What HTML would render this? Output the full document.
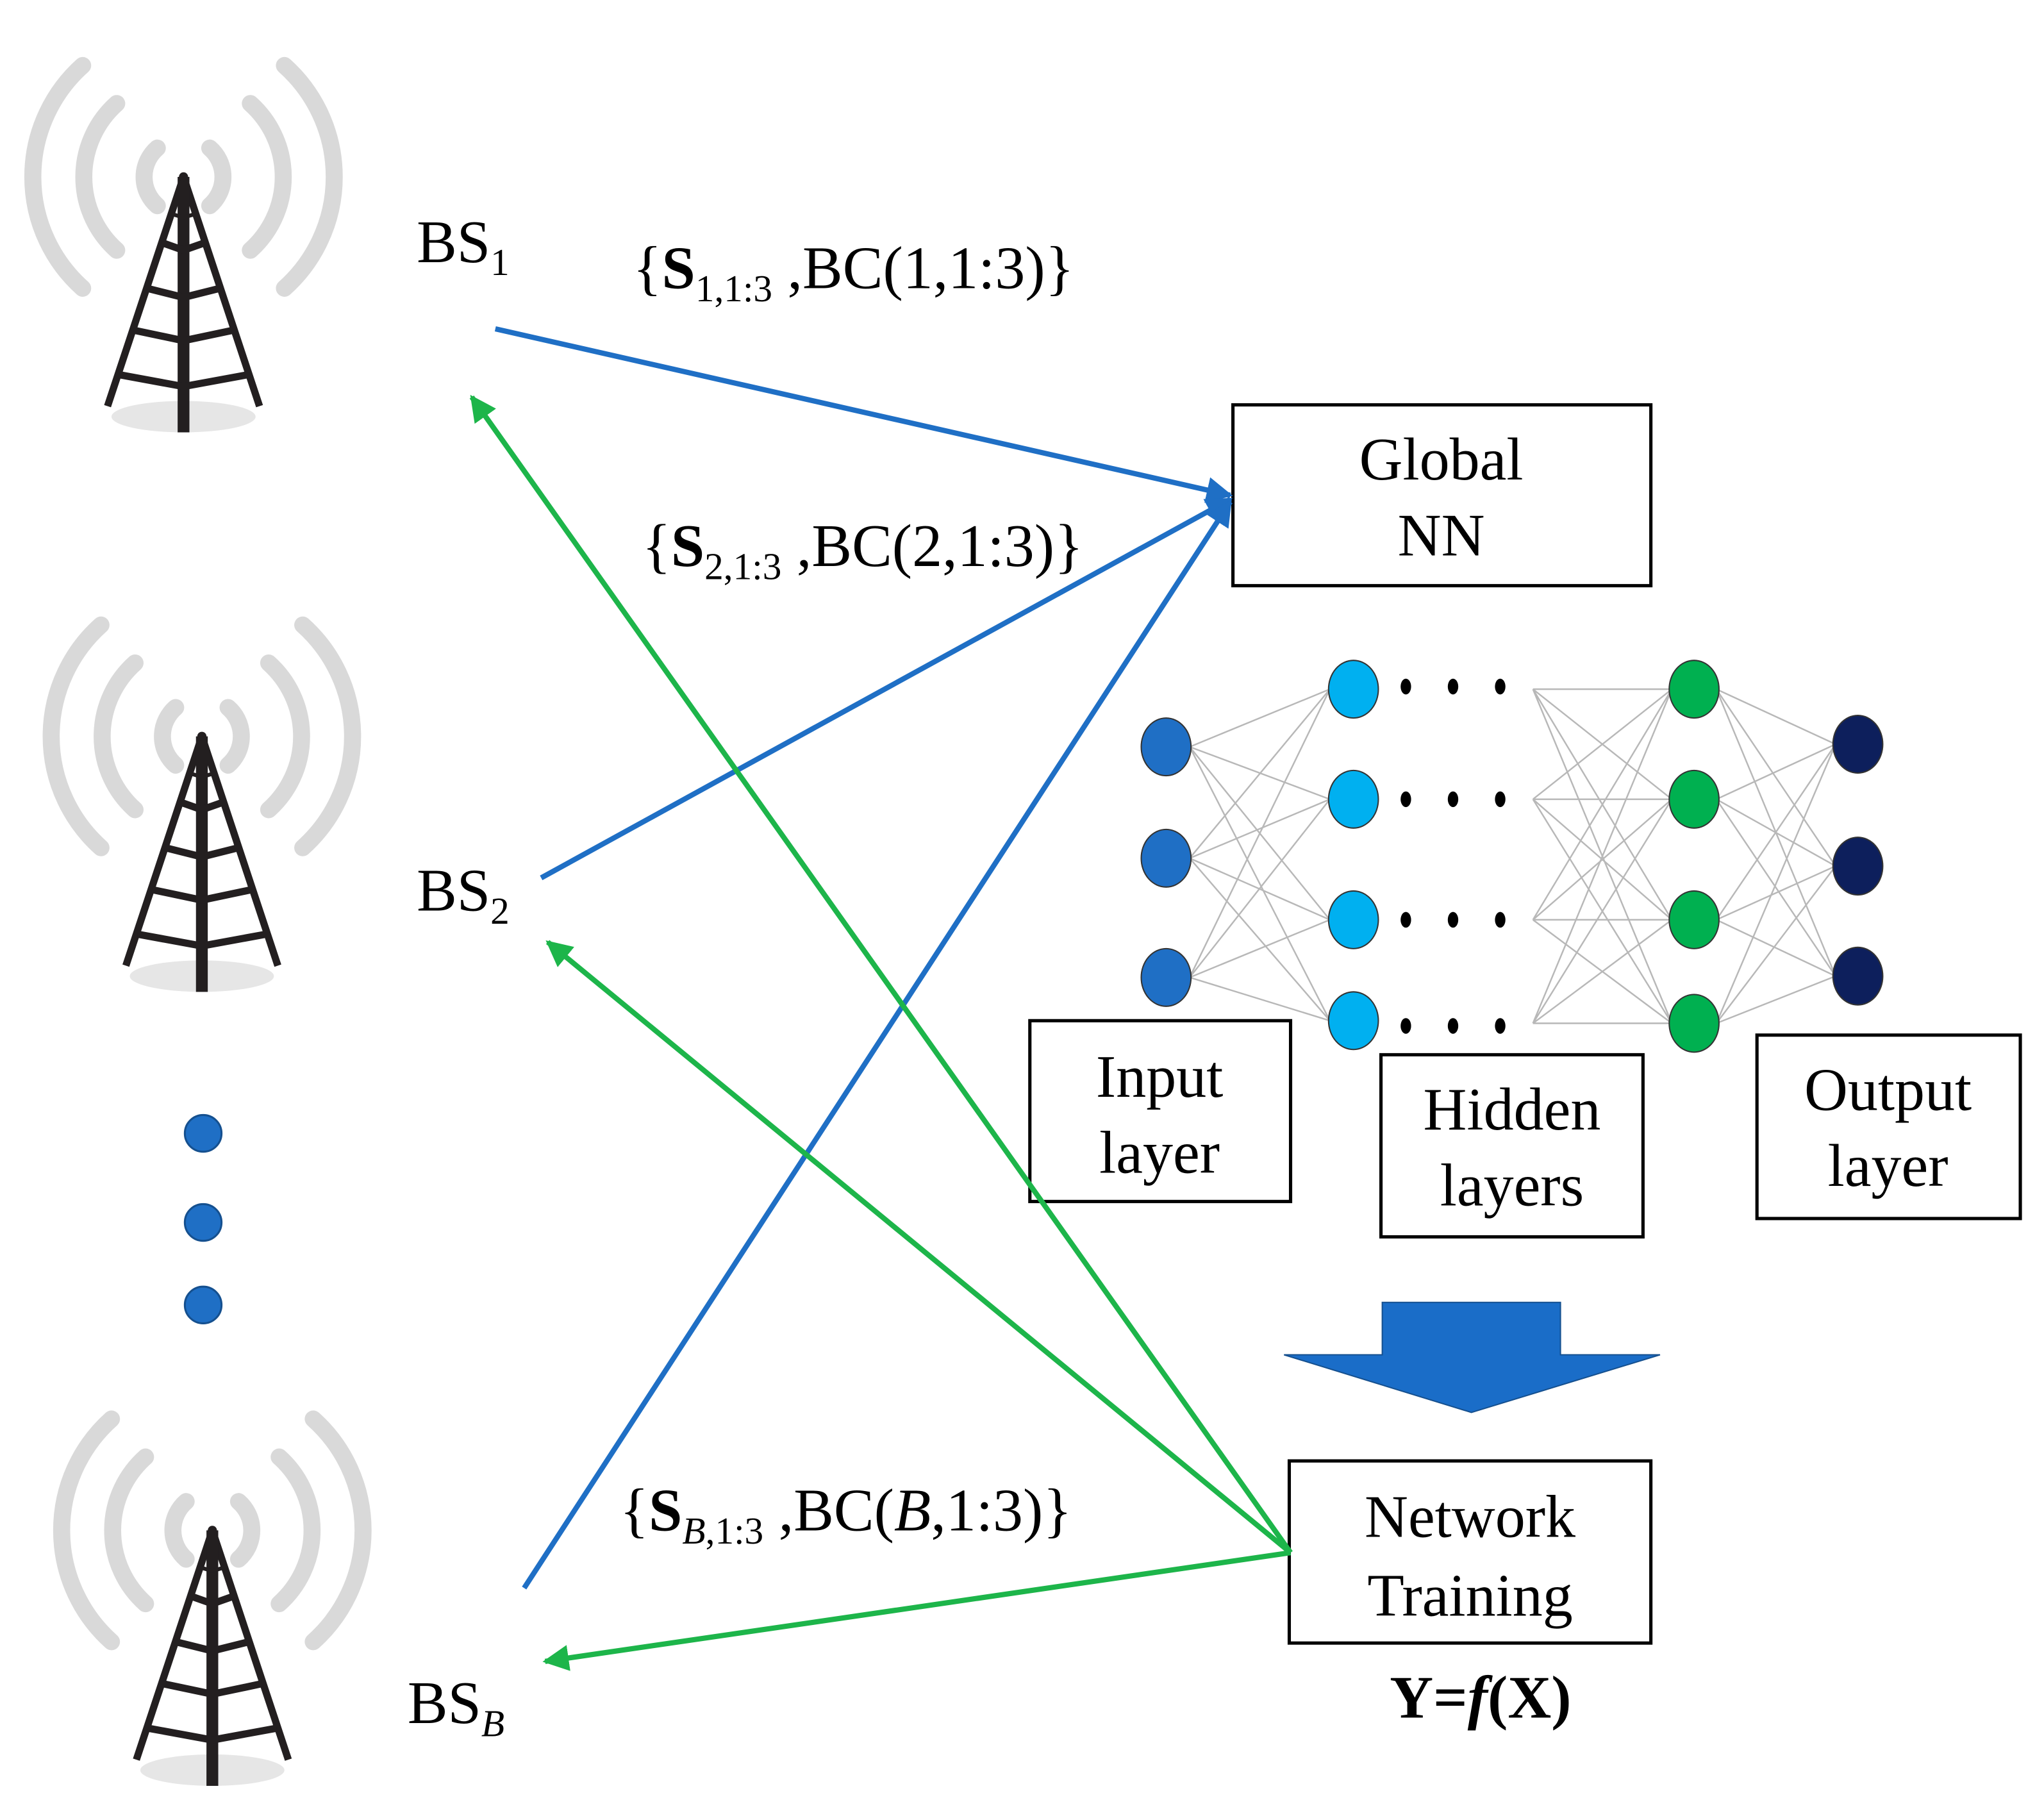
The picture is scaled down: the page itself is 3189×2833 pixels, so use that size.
<!DOCTYPE html>
<html><head><meta charset="utf-8"><style>html,body{margin:0;padding:0;background:#fff}svg{display:block}</style></head>
<body>
<svg xmlns="http://www.w3.org/2000/svg" width="3189" height="2833" viewBox="0 0 1560 1386">
<defs>
<g id="tower">
  <g fill="none" stroke="#d9d9d9" stroke-width="13" stroke-linecap="round">
    <path d="M-20,-22 A29,29 0 0 0 -20,22"/>
    <path d="M20,-22 A29,29 0 0 1 20,22"/>
    <path d="M-51,-56 A75,75 0 0 0 -51,56"/>
    <path d="M51,-56 A75,75 0 0 1 51,56"/>
    <path d="M-77,-85 A114,114 0 0 0 -77,85"/>
    <path d="M77,-85 A114,114 0 0 1 77,85"/>
  </g>
  <ellipse cx="0" cy="183" rx="55" ry="12" fill="#e6e6e6"/>
  <g stroke="#231f20" fill="none" stroke-linejoin="round">
    <path d="M-58,175 L0,0 L58,175" stroke-width="5.5"/>
    <path d="M0,0 V195" stroke-width="9"/>
    <path d="M-10,28 L0,31 L10,28" stroke-width="3"/>
    <path d="M-17,50 L0,56 L17,50 M-28,85 L0,92 L28,85 M-38,117 L0,125 L38,117 M-49,151 L0,160 L49,151" stroke-width="5.5"/>
  </g>
  <circle cx="0" cy="0" r="3.5" fill="#231f20"/>
</g>
<marker id="ab" viewBox="0 0 10 10" refX="9" refY="5" markerWidth="5" markerHeight="5" orient="auto"><path d="M0,0 L10,5 L0,10 z" fill="#1f6fc5"/></marker>
<marker id="ag" viewBox="0 0 10 10" refX="9" refY="5" markerWidth="5" markerHeight="5" orient="auto"><path d="M0,0 L10,5 L0,10 z" fill="#1db54a"/></marker>
</defs>

<use href="#tower" x="140" y="135"/>
<use href="#tower" x="154" y="562"/>
<use href="#tower" x="162" y="1168"/>

<g fill="#1f6fc5" stroke="#15508f" stroke-width="1.5">
<circle cx="155" cy="865" r="14"/><circle cx="155" cy="933" r="14"/><circle cx="155" cy="996" r="14"/>
</g>

<g font-family="Liberation Serif, serif" font-size="46" fill="#000">
<text x="318" y="200">BS<tspan font-size="29" dy="10">1</tspan></text>
<text x="318" y="695">BS<tspan font-size="29" dy="10">2</tspan></text>
<text x="311" y="1315">BS<tspan font-size="29" dy="10" font-style="italic">B</tspan></text>
<text x="483" y="220">{<tspan font-weight="bold">S</tspan><tspan font-size="29" dy="10">1,1:3</tspan><tspan dy="-10"> ,BC(1,1:3)}</tspan></text>
<text x="490" y="432">{<tspan font-weight="bold">S</tspan><tspan font-size="29" dy="10">2,1:3</tspan><tspan dy="-10"> ,BC(2,1:3)}</tspan></text>
<text x="473" y="1168">{<tspan font-weight="bold">S</tspan><tspan font-size="29" dy="10"><tspan font-style="italic">B</tspan>,1:3</tspan><tspan dy="-10"> ,BC(<tspan font-style="italic">B</tspan>,1:3)}</tspan></text>
</g>

<g transform="translate(-5,-2)">
<g stroke="#b8b8b8" stroke-width="1.2">
<path d="M913,572 L1020,528 M913,572 L1020,612 M913,572 L1020,704 M913,572 L1020,781
M913,657 L1020,528 M913,657 L1020,612 M913,657 L1020,704 M913,657 L1020,781
M913,748 L1020,528 M913,748 L1020,612 M913,748 L1020,704 M913,748 L1020,781"/>
<path d="M1175,528 L1281,528 M1175,528 L1281,612 M1175,528 L1281,704 M1175,528 L1281,783
M1175,612 L1281,528 M1175,612 L1281,612 M1175,612 L1281,704 M1175,612 L1281,783
M1175,704 L1281,528 M1175,704 L1281,612 M1175,704 L1281,704 M1175,704 L1281,783
M1175,783 L1281,528 M1175,783 L1281,612 M1175,783 L1281,704 M1175,783 L1281,783"/>
<path d="M1315,528 L1406,570 M1315,528 L1406,663 M1315,528 L1406,747
M1315,612 L1406,570 M1315,612 L1406,663 M1315,612 L1406,747
M1315,704 L1406,570 M1315,704 L1406,663 M1315,704 L1406,747
M1315,783 L1406,570 M1315,783 L1406,663 M1315,783 L1406,747"/>
</g>
<g stroke="#333" stroke-width="1">
<g fill="#1f6fc5"><ellipse cx="895" cy="572" rx="19" ry="22"/><ellipse cx="895" cy="657" rx="19" ry="22"/><ellipse cx="895" cy="748" rx="19" ry="22"/></g>
<g fill="#00b0f0"><ellipse cx="1038" cy="528" rx="19" ry="22"/><ellipse cx="1038" cy="612" rx="19" ry="22"/><ellipse cx="1038" cy="704" rx="19" ry="22"/><ellipse cx="1038" cy="781" rx="19" ry="22"/></g>
<g fill="#00b050"><ellipse cx="1298" cy="528" rx="19" ry="22"/><ellipse cx="1298" cy="612" rx="19" ry="22"/><ellipse cx="1298" cy="704" rx="19" ry="22"/><ellipse cx="1298" cy="783" rx="19" ry="22"/></g>
<g fill="#0d1f5c"><ellipse cx="1423" cy="570" rx="19" ry="22"/><ellipse cx="1423" cy="663" rx="19" ry="22"/><ellipse cx="1423" cy="747" rx="19" ry="22"/></g>
</g>
<g fill="#000">
<ellipse cx="1078" cy="526" rx="4" ry="6"/><ellipse cx="1114" cy="526" rx="4" ry="6"/><ellipse cx="1150" cy="526" rx="4" ry="6"/>
<ellipse cx="1078" cy="612" rx="4" ry="6"/><ellipse cx="1114" cy="612" rx="4" ry="6"/><ellipse cx="1150" cy="612" rx="4" ry="6"/>
<ellipse cx="1078" cy="704" rx="4" ry="6"/><ellipse cx="1114" cy="704" rx="4" ry="6"/><ellipse cx="1150" cy="704" rx="4" ry="6"/>
<ellipse cx="1078" cy="785" rx="4" ry="6"/><ellipse cx="1114" cy="785" rx="4" ry="6"/><ellipse cx="1150" cy="785" rx="4" ry="6"/>
</g>

<g fill="#fff" stroke="#000" stroke-width="2.5">
<rect x="946" y="311" width="319" height="138"/>
<rect x="791" y="781" width="199" height="138"/>
<rect x="1059" y="807" width="200" height="139"/>
<rect x="1346" y="792" width="201" height="140"/>
<rect x="989" y="1117" width="276" height="139"/>
</g>
<g font-family="Liberation Serif, serif" font-size="46" fill="#000" text-anchor="middle">
<text x="1105" y="368">Global</text><text x="1105" y="426">NN</text>
<text x="890" y="839">Input</text><text x="890" y="897">layer</text>
<text x="1159" y="864">Hidden</text><text x="1159" y="922">layers</text>
<text x="1446" y="849">Output</text><text x="1446" y="907">layer</text>
<text x="1127" y="1175">Network</text><text x="1127" y="1235">Training</text>
<text x="1135" y="1313" font-weight="bold">Y=<tspan font-style="italic">f</tspan>(X)</text>
</g>

<path d="M1060,996 H1196 V1036 H1272 L1128,1080 L985,1036 H1060 Z" fill="#1a6dc8" stroke="#15508f" stroke-width="1"/>
</g>

<g stroke="#1f6fc5" stroke-width="4" fill="none">
<line x1="378" y1="251" x2="939" y2="378" marker-end="url(#ab)"/>
<line x1="413" y1="670" x2="939" y2="381" marker-end="url(#ab)"/>
<line x1="400" y1="1212" x2="939" y2="383" marker-end="url(#ab)"/>
</g>
<g stroke="#1db54a" stroke-width="4" fill="none">
<line x1="985" y1="1185" x2="360" y2="303" marker-end="url(#ag)"/>
<line x1="985" y1="1185" x2="418" y2="719" marker-end="url(#ag)"/>
<line x1="985" y1="1185" x2="416" y2="1268" marker-end="url(#ag)"/>
</g>
</svg>
</body></html>
